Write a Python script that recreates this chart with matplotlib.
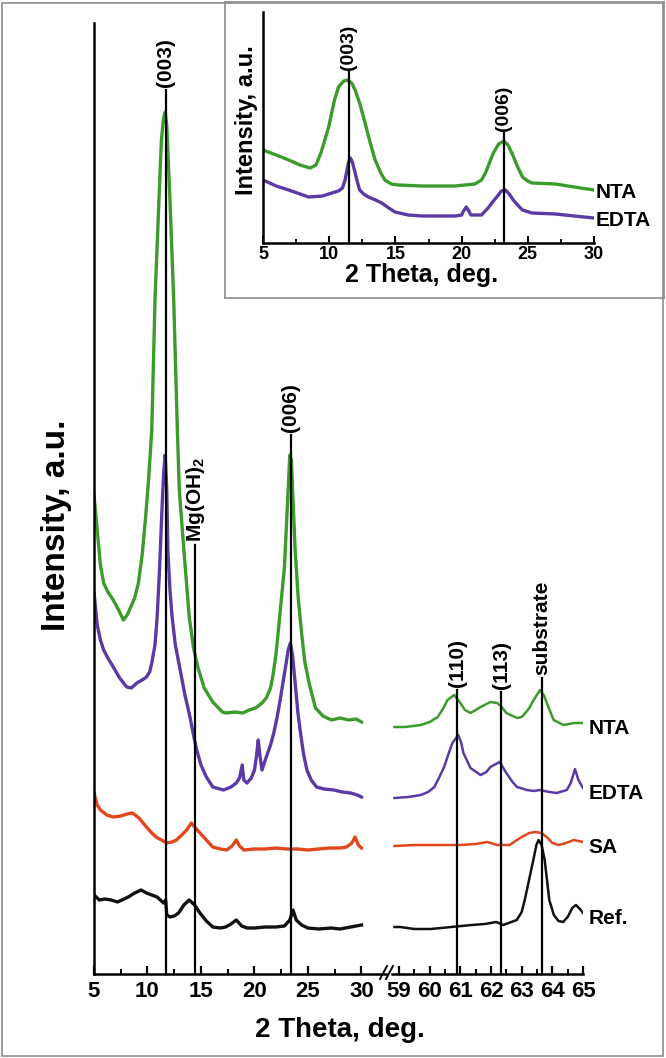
import matplotlib
matplotlib.use("Agg")
import matplotlib.pyplot as plt
from matplotlib.lines import Line2D
from matplotlib.patches import Rectangle

plt.rcParams['font.family'] = ['Liberation Sans', 'DejaVu Sans']
plt.rcParams['font.weight'] = 'bold'
plt.rcParams['mathtext.fontset'] = 'custom'
plt.rcParams['mathtext.rm'] = 'Liberation Sans:bold'
plt.rcParams['mathtext.bf'] = 'Liberation Sans:bold'
plt.rcParams['mathtext.default'] = 'rm'

W, H = 666, 1058

# ---------------- data (main plot, intensity in a.u.) ----------------
nta_x1 = [5.0, 5.3, 5.6, 5.9, 6.3, 6.8, 7.3, 7.75, 8.1, 8.4, 8.8, 9.15, 9.5, 9.8, 10.1, 10.4, 10.7, 11.07, 11.3,
          11.5, 11.65, 11.8, 12.1, 12.45, 12.8, 12.97, 13.4, 13.9, 14.3, 14.7, 15.3, 16.1, 17.0, 17.3, 18.2, 18.9,
          19.5, 20.1, 20.7, 21.1, 21.5, 21.7, 22.0, 22.3, 22.55, 22.8, 23.1, 23.3, 23.45, 23.6, 23.8, 24.1, 24.4,
          24.7, 25.1, 25.7, 26.4, 27.2, 28.0, 28.8, 29.5, 30.0]
nta_y1 = [479, 444, 409, 391, 382, 374, 364, 354, 359, 366, 376, 391, 419, 454, 494, 544, 674, 774, 834,
          856, 862, 849, 774, 674, 541, 484, 424, 357, 326, 307, 286, 272, 262, 261, 262, 261,
          264, 266, 271, 276, 286, 297, 319, 351, 379, 407, 474, 519, 514, 474, 424, 374, 341,
          312, 291, 266, 258, 254, 256, 254, 255, 252]

edta_x1 = [5.0, 5.3, 5.6, 5.9, 6.3, 6.8, 7.4, 8.05, 8.5, 9.0, 9.5, 9.9, 10.2, 10.4, 10.7, 10.9, 11.1, 11.2, 11.35,
           11.5, 11.65, 11.8, 11.9, 12.1, 12.3, 12.6, 13.0, 13.5, 13.97, 14.3, 14.6, 15.0, 15.5, 16.1, 17.1, 17.8,
           18.3, 18.6, 18.85, 19.0, 19.3, 19.7, 20.0, 20.2, 20.35, 20.5, 20.7, 21.1, 21.5, 21.8, 22.1, 22.4, 22.7,
           22.9, 23.15, 23.35, 23.55, 23.8, 24.05, 24.3, 24.6, 24.9, 25.3, 25.8, 26.5, 27.4, 28.2, 29.0, 29.6, 30.0]
edta_y1 = [382, 349, 334, 324, 316, 307, 296, 287, 286, 291, 294, 297, 302, 311, 329, 357, 399, 424, 464,
           499, 519, 484, 424, 384, 357, 329, 307, 279, 257, 239, 224, 209, 197, 187, 184, 187,
           191, 196, 209, 194, 191, 196, 204, 219, 234, 219, 204, 217, 229, 241, 256, 274, 294,
           307, 324, 331, 319, 291, 262, 241, 219, 204, 194, 187, 185, 184, 182, 181, 179, 177]

sa_x1 = [5.0, 5.3, 5.6, 6.2, 6.8, 7.5, 8.1, 8.6, 9.2, 9.9, 10.4, 10.8, 11.3, 11.8, 12.3, 12.7, 13.2, 13.66, 14.1,
         14.5, 14.9, 15.5, 16.1, 16.8, 17.4, 17.9, 18.3, 18.6, 19.0, 20.0, 21.0, 22.0, 23.0, 24.0, 25.0, 26.0,
         27.0, 28.0, 28.6, 29.1, 29.4, 29.7, 30.0]
sa_y1 = [181, 169, 164, 159, 157, 158, 160, 161, 156, 147, 141, 137, 134, 131, 132, 134, 139, 144, 151,
         146, 141, 134, 127, 125, 124, 128, 134, 128, 124, 125, 125, 126, 125, 125, 124, 125,
         126, 126, 127, 131, 137, 129, 126]

ref_x1 = [5.0, 5.5, 6.0, 6.6, 7.2, 7.8, 8.2, 8.8, 9.4, 9.9, 10.4, 10.9, 11.5, 11.7, 11.8, 12.1, 12.5, 12.9, 13.4,
          13.9, 14.4, 14.9, 15.5, 16.1, 16.8, 17.3, 17.8, 18.3, 18.8, 19.3, 20.0, 21.0, 22.0, 22.8, 23.3, 23.6,
          23.9, 24.4, 25.0, 26.0, 27.2, 28.0, 29.0, 29.5, 30.0]
ref_y1 = [79, 74, 75, 74, 72, 75, 77, 81, 84, 81, 79, 77, 71, 74, 59, 57, 58, 61, 69,
          74, 69, 61, 53, 47, 46, 47, 50, 54, 48, 46, 46, 47, 47, 48, 54, 64,
          54, 49, 46, 45, 46, 45, 47, 48, 49]

nta_x2 = [58.85, 59.2, 59.71, 60.0, 60.26, 60.45, 60.58, 60.8, 61.0, 61.15, 61.33, 61.5, 61.66, 61.98, 62.2,
          62.35, 62.5, 62.85, 63.0, 63.12, 63.25, 63.39, 63.6, 63.72, 63.82, 63.95, 64.04, 64.36, 64.7, 65.0]
nta_y2 = [247, 247, 249, 252, 257, 266, 274, 279, 271, 264, 261, 264, 267, 272, 271,
          267, 261, 256, 257, 261, 266, 274, 284, 279, 271, 261, 254, 249, 251, 251]

edta_x2 = [58.85, 59.3, 59.71, 59.95, 60.15, 60.3, 60.47, 60.6, 60.74, 60.93, 61.02, 61.1, 61.33, 61.66, 61.85,
           61.98, 62.28, 62.5, 62.7, 62.85, 63.17, 63.4, 63.6, 63.9, 64.14, 64.47, 64.6, 64.74, 64.85, 65.0]
edta_y2 = [176, 177, 179, 182, 187, 196, 207, 219, 231, 239, 232, 221, 206, 199, 202,
           207, 212, 201, 192, 187, 184, 183, 184, 182, 181, 184, 191, 205, 194, 186]

sa_x2 = [58.85, 59.5, 60.0, 60.5, 61.0, 61.5, 61.88, 62.2, 62.6, 63.0, 63.25, 63.45, 63.65, 63.85, 64.0, 64.2,
         64.45, 64.7, 65.0]
sa_y2 = [128, 129, 129, 129, 129, 130, 132, 129, 129, 137, 141, 142, 141, 136, 131, 129,
         131, 134, 132]

ref_x2 = [58.85, 59.04, 59.5, 60.04, 60.7, 61.37, 61.8, 62.17, 62.4, 62.84, 63.0, 63.1, 63.24, 63.38, 63.48,
          63.55, 63.65, 63.75, 63.9, 64.05, 64.2, 64.35, 64.5, 64.65, 64.77, 64.9, 65.0]
ref_y2 = [47, 47, 45, 45, 47, 49, 50, 52, 49, 54, 62, 74, 94, 114, 129,
          134, 129, 114, 74, 59, 53, 52, 57, 66, 69, 65, 61]

# ---------------- data (inset) ----------------
in_nta_x = [5.0, 6.0, 6.94, 7.8, 8.57, 9.0, 9.4, 9.96, 10.4, 10.7, 11.1, 11.4, 11.7, 11.96, 12.3, 12.71, 13.1,
            13.47, 13.9, 14.2, 14.7, 15.2, 17.0, 19.5, 21.0, 21.5, 21.8, 22.1, 22.4, 22.8, 23.2, 23.5, 23.8,
            24.2, 24.6, 25.0, 25.3, 27.1, 28.5, 30.0]
in_nta_y = [93, 88, 83, 78, 75, 78, 91, 116, 143, 156, 162, 163, 160, 153, 140, 120, 100,
            83, 70, 63, 59, 58, 57, 57, 59, 63, 70, 80, 90, 99, 102, 98, 90,
            77, 66, 62, 60, 59, 56, 53]

in_edta_x = [5.0, 6.0, 6.94, 8.45, 9.5, 10.2, 10.7, 11.0, 11.2, 11.3, 11.45, 11.6, 11.75, 11.96, 12.15, 12.3,
             12.6, 12.96, 13.5, 13.97, 14.5, 14.97, 15.97, 17.0, 19.5, 20.0, 20.15, 20.35, 20.55, 20.7, 21.5,
             22.0, 22.4, 22.66, 23.0, 23.3, 23.6, 23.9, 24.3, 24.6, 25.3, 27.1, 28.5, 30.0]
in_edta_y = [63, 57, 53, 46, 47, 50, 52, 55, 63, 70, 80, 85, 81, 70, 60, 53,
             49, 46, 43, 40, 35, 31, 28, 27, 27, 28, 32, 36, 32, 28, 28,
             35, 42, 46, 52, 53, 49, 43, 37, 33, 30, 29, 27, 25]

# peak marker positions (2 theta) and labels
main_peaks = [11.7, 14.45, 23.37]
main_peak_labels = ['(003)', 'Mg(OH)$_2$', '(006)']
main_peak_tops = [884, 429, 539]
right_peaks = [60.9, 62.33, 63.65]
right_peak_labels = ['(110)', '(113)', 'substrate']
right_peak_tops = [284, 282, 296]
inset_peaks = [11.47, 23.2]
inset_peak_labels = ['(003)', '(006)']
inset_peak_tops = [171, 110]

series_names = ['NTA', 'EDTA', 'SA', 'Ref.']
series_colors = ['#3b9b2b', '#5b3aa6', '#e2471b', '#111111']

xt_left = [5, 10, 15, 20, 25, 30]
xt_right = [59, 60, 61, 62, 63, 64, 65]
xt_inset = [5, 10, 15, 20, 25, 30]

# ---------------- layout helpers ----------------
def rect(x0, x1, ytop, ybot):
    return [x0 / W, 1 - ybot / H, (x1 - x0) / W, (ybot - ytop) / H]

fig = plt.figure(figsize=(W / 100, H / 100), dpi=100)
fig.patches.append(Rectangle((2 / W, 2 / H), (W - 5) / W, (H - 5) / H, transform=fig.transFigure,
                             fill=False, edgecolor='#8c8c8c', lw=1.2))

ax1 = fig.add_axes(rect(94, 386, 23, 974))
ax2 = fig.add_axes(rect(392, 583, 23, 974), sharey=ax1)
ax1.set_xlim(5, 32.29)
ax2.set_xlim(58.77, 65)
ax1.set_ylim(0, 951)

for ax in (ax1, ax2):
    for s in ('top', 'right'):
        ax.spines[s].set_visible(False)
    ax.spines['bottom'].set_linewidth(1.8)
    ax.tick_params(axis='x', direction='in', length=6, width=1.6, labelsize=16, pad=5)
    ax.tick_params(axis='x', which='minor', direction='in', length=3.5, width=1.4)
    ax.tick_params(axis='y', left=False, labelleft=False)
    ax.patch.set_alpha(0)
ax1.spines['left'].set_linewidth(1.8)
ax2.spines['left'].set_visible(False)

ax1.set_xticks(xt_left)
ax1.set_xticks([7.5, 12.5, 17.5, 22.5, 27.5], minor=True)
ax2.set_xticks(xt_right)
ax2.set_xticks([59.5, 60.5, 61.5, 62.5, 63.5, 64.5], minor=True)
for ax in (ax1, ax2):
    for lab in ax.get_xticklabels():
        lab.set_fontweight('bold')

lw_main = 2.4
lw_right = 1.8
ax1.plot(nta_x1, nta_y1, color=series_colors[0], lw=lw_main)
ax1.plot(edta_x1, edta_y1, color=series_colors[1], lw=lw_main)
ax1.plot(sa_x1, sa_y1, color=series_colors[2], lw=lw_main)
ax1.plot(ref_x1, ref_y1, color=series_colors[3], lw=lw_main)
ax2.plot(nta_x2, nta_y2, color=series_colors[0], lw=lw_right)
ax2.plot(edta_x2, edta_y2, color=series_colors[1], lw=lw_right)
ax2.plot(sa_x2, sa_y2, color=series_colors[2], lw=lw_right)
ax2.plot(ref_x2, ref_y2, color=series_colors[3], lw=lw_right)

for x, lab, top in zip(main_peaks, main_peak_labels, main_peak_tops):
    ax1.plot([x, x], [0, top], color='black', lw=1.6, clip_on=False)
    ax1.text(x, top + 3, lab, rotation=90, ha='center', va='bottom', fontsize=15, fontweight='bold')
for x, lab, top in zip(right_peaks, right_peak_labels, right_peak_tops):
    ax2.plot([x, x], [0, top], color='black', lw=1.6, clip_on=False)
    ax2.text(x, top + 3, lab, rotation=90, ha='center', va='bottom', fontsize=15, fontweight='bold')

# series names at right end
for name, yv in zip(series_names, [nta_y2[-1], edta_y2[-1], sa_y2[-1], ref_y2[-1]]):
    ax2.annotate(name, xy=(65, yv), xytext=(4, -4), textcoords='offset points', ha='left', va='center',
                 fontsize=15, fontweight='bold', annotation_clip=False)

# axis break marks
for dx in (-3, 3):
    fig.add_artist(Line2D([(386 + dx - 3) / W, (386 + dx + 4) / W], [1 - 979 / H, 1 - 966 / H],
                          color='black', lw=1.4, transform=fig.transFigure))

fig.text(56 / W, 1 - 525 / H, 'Intensity, a.u.', rotation=90, ha='center', va='center',
         fontsize=24, fontweight='bold')
fig.text(340 / W, 1 - 1030 / H, '2 Theta, deg.', ha='center', va='center', fontsize=20, fontweight='bold')

# ---------------- inset ----------------
frame = fig.add_axes(rect(225, 664, 2, 298))
frame.set_xticks([])
frame.set_yticks([])
for s in frame.spines.values():
    s.set_edgecolor('#8c8c8c')
    s.set_linewidth(1.2)

axi = fig.add_axes(rect(263, 594, 12, 243))
axi.set_xlim(5, 30)
axi.set_ylim(0, 231)
axi.patch.set_alpha(0)
for s in ('top', 'right'):
    axi.spines[s].set_visible(False)
axi.spines['left'].set_linewidth(1.8)
axi.spines['bottom'].set_linewidth(1.8)
axi.set_xticks(xt_inset)
axi.set_xticks([7.5, 12.5, 17.5, 22.5, 27.5], minor=True)
axi.tick_params(axis='x', direction='in', length=5, width=1.5, labelsize=13, pad=2)
axi.tick_params(axis='x', which='minor', direction='in', length=3, width=1.3)
axi.tick_params(axis='y', left=False, labelleft=False)
for lab in axi.get_xticklabels():
    lab.set_fontweight('bold')
axi.plot(in_nta_x, in_nta_y, color=series_colors[0], lw=2.4)
axi.plot(in_edta_x, in_edta_y, color=series_colors[1], lw=2.4)
for x, lab, top in zip(inset_peaks, inset_peak_labels, inset_peak_tops):
    axi.plot([x, x], [0, top], color='black', lw=1.6, clip_on=False)
    axi.text(x, top + 2, lab, rotation=90, ha='center', va='bottom', fontsize=14, fontweight='bold')
for name, yv in zip(series_names[:2], [in_nta_y[-1], in_edta_y[-1]]):
    axi.annotate(name, xy=(30, yv), xytext=(1, -2), textcoords='offset points', ha='left', va='center',
                 fontsize=15, fontweight='bold', annotation_clip=False)
fig.text(246 / W, 1 - 120 / H, 'Intensity, a.u.', rotation=90, ha='center', va='center',
         fontsize=17, fontweight='bold')
fig.text(422 / W, 1 - 275 / H, '2 Theta, deg.', ha='center', va='center', fontsize=18, fontweight='bold')

fig.savefig('out.png', dpi=100)
